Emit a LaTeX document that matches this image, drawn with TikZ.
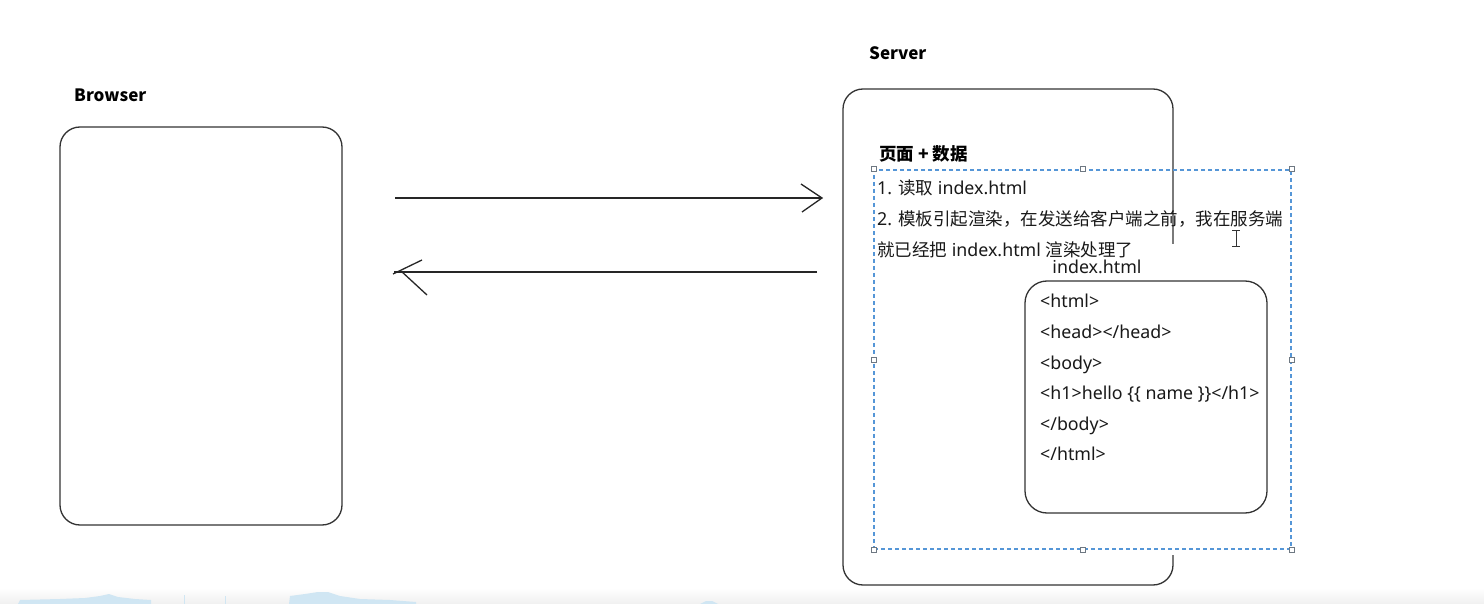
\documentclass[tikz,border=0pt]{standalone}
\usepackage{fontspec}
\setmainfont{Noto Sans}
\newfontfamily\cjk{Noto Sans CJK SC}
\newcommand{\zh}[1]{{\cjk\fontsize{17.5}{20}\selectfont #1}}
\definecolor{selblue}{RGB}{85,150,215}
\definecolor{selgray}{RGB}{110,120,130}
\definecolor{strip}{RGB}{208,230,243}
\begin{document}
\begin{tikzpicture}[x=1pt,y=-1pt,
  box/.style={draw=black!80, line width=1.3pt, rounded corners=20pt, inner sep=0pt},
  lbl/.style={font=\cjk\fontsize{17}{20}\selectfont\bfseries, anchor=base west, inner sep=0pt},
  txt/.style={font=\fontsize{17.8}{20}\selectfont, anchor=base west, inner sep=0pt, text=black!90},
  selbox/.style={draw=selblue, dash pattern=on 4pt off 3pt, line width=1.2pt, inner sep=0pt},
  handle/.style={draw=selgray, fill=white, minimum size=5pt, inner sep=0pt, line width=0.8pt},
  arr/.style={line width=1.3pt, draw=black!85}]
\useasboundingbox (0,0) rectangle (1484,604);
\fill[white] (0,0) rectangle (1484,604);
% bottom strip
\shade[top color=white, bottom color=gray!12] (0,588) rectangle (1484,604);
\fill[strip] (18,604) -- (20,600) -- (60,599) -- (85,598) -- (100,596) -- (109,594) -- (118,597) -- (135,599) -- (151,600) -- (151,604) -- cycle;
\fill[strip] (289,604) -- (290,596) -- (305,594) -- (318,592) -- (328,592) -- (340,596) -- (360,599) -- (390,600) -- (416,602) -- (416,604) -- cycle;
\fill[strip] (700,604) -- (706,601) -- (712,601) -- (718,604) -- cycle;
\draw[strip, line width=0.8pt] (184,595) -- (184,604) (225,596) -- (225,604);
% labels
\node[lbl] (blabel) at (74,102) {Browser};
\node[lbl] (slabel) at (869,60) {Server};
% boxes
\node[box, minimum width=282pt, minimum height=398pt] (browser) at (201,326) {};
\node[box, minimum width=330pt, minimum height=496pt] (server) at (1008,337) {};
\fill[white] (1166,244) rectangle (1181,555);
\node[selbox, minimum width=417pt, minimum height=379pt] (sel) at (1082.5,359.5) {};
\node[box, rounded corners=22pt, minimum width=242pt, minimum height=232pt] (inner) at (1146,397) {};
% handles
\foreach \a/\n in {north west/h1, north/h2, north east/h3, west/h4, east/h5, south west/h6, south/h7, south east/h8}
  \node[handle] (\n) at (sel.\a) {};
% texts
\node[lbl, font=\cjk\fontsize{17.5}{20}\selectfont\bfseries] (title) at (879,161) {页面 + 数据};
\node[txt] (l1) at (877,195) {1. \zh{读取} index.html};
\node[txt] (l2) at (877,226) {2. \zh{模板引起渲染，在发送给客户端之前，我在服务端}};
\node[txt] (l3) at (877,257) {\zh{就已经把} index.html \zh{渲染处理了}};
\node[txt, anchor=base] (ilabel) at (1097,274) {index.html};
\node[txt] (c1) at (1040,308) {<html>};
\node[txt] (c2) at (1040,338) {<head></head>};
\node[txt] (c3) at (1040,369) {<body>};
\node[txt] (c4) at (1040,399) {<h1>hello \{\{ name \}\}</h1>};
\node[txt] (c5) at (1040,430) {</body>};
\node[txt] (c6) at (1040,460) {</html>};
% arrows
\coordinate (a1s) at (395,198);
\coordinate (a1e) at (822,198);
\coordinate (a1u) at (801,184);
\coordinate (a1d) at (802,212);
\draw[arr] (a1s) -- (a1e);
\draw[arr] (a1u) -- (a1e) -- (a1d);
\coordinate (a2s) at (817,272);
\coordinate (a2e) at (394,272);
\coordinate (a2u1) at (422,260);
\coordinate (a2u2) at (393,274);
\coordinate (a2d1) at (401,271);
\coordinate (a2d2) at (427,295);
\draw[arr] (a2s) -- (a2e);
\draw[arr] (a2u1) -- (a2u2);
\draw[arr] (a2d1) -- (a2d2);
% text cursor
\draw[black!80, line width=1pt] (1236,231) -- (1236,247) (1232,231) -- (1240,231) (1232,247) -- (1240,247);
\end{tikzpicture}
\end{document}
